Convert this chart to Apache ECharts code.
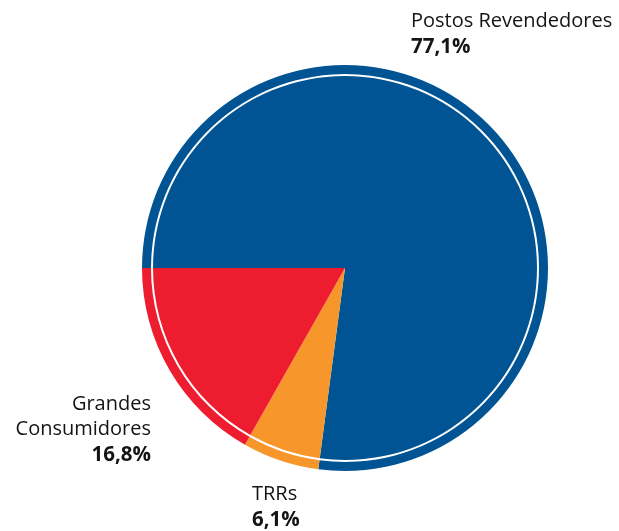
<!DOCTYPE html>
<html>
<head>
<meta charset="utf-8">
<style>
  html, body { margin: 0; padding: 0; background: #ffffff; }
  #chart { width: 619px; height: 531px; }
</style>
<script src="https://cdn.jsdelivr.net/npm/echarts@6/dist/echarts.min.js"></script>
</head>
<body>
<div id="chart"></div>
<script>
// Market share by distribution channel (%)
var categories = ['Postos Revendedores', 'TRRs', 'Grandes Consumidores'];
var shares = [77.1, 6.1, 16.8];
var sliceColors = ['#005493', '#F7962A', '#ED1C2E'];
var labelNames = ['Postos Revendedores', 'TRRs', 'Grandes\nConsumidores'];

var FONT = "'Open Sans', 'Noto Sans', sans-serif";

function pct(v) {
  return v.toFixed(1).replace('.', ',') + '%';
}

var data = categories.map(function (c, i) {
  return { name: c, value: shares[i], itemStyle: { color: sliceColors[i] } };
});

// label anchor per slice: [x, y, align]
var labelSpots = [
  [411, 9, 'left'],
  [252, 482, 'left'],
  [151, 392, 'right']
];

var chart = echarts.init(document.getElementById('chart'), null, { renderer: 'canvas' });
chart.setOption({
  animation: false,
  backgroundColor: '#ffffff',
  series: [
    {
      // thin outer band, separated from the main disc by a white gap
      type: 'pie',
      center: [345, 268],
      radius: [194, 203],
      startAngle: 180,
      clockwise: true,
      silent: true,
      label: { show: false },
      labelLine: { show: false },
      itemStyle: { borderWidth: 0 },
      data: data
    },
    {
      type: 'pie',
      center: [345, 268],
      radius: [0, 192],
      startAngle: 180,
      clockwise: true,
      silent: true,
      itemStyle: { borderWidth: 0 },
      labelLine: { show: false },
      label: {
        show: true,
        position: 'outside',
        overflow: 'none',
        edgeDistance: 0,
        bleedMargin: 0,
        formatter: function (p) {
          var lines = labelNames[p.dataIndex].split('\n');
          return lines.map(function (l) { return '{n|' + l + '}'; }).join('\n') +
            '\n{v|' + pct(p.value) + '}';
        },
        rich: {
          n: { fontFamily: FONT, fontSize: 20, color: '#141414', lineHeight: 25 },
          v: { fontFamily: FONT, fontSize: 20.5, fontWeight: 'bold', color: '#141414', lineHeight: 26 }
        }
      },
      labelLayout: function (params) {
        var s = labelSpots[params.dataIndex];
        return { x: s[0], y: s[1], align: s[2], verticalAlign: 'top', hideOverlap: false, moveOverlap: null };
      },
      data: data
    }
  ]
});
</script>
</body>
</html>
